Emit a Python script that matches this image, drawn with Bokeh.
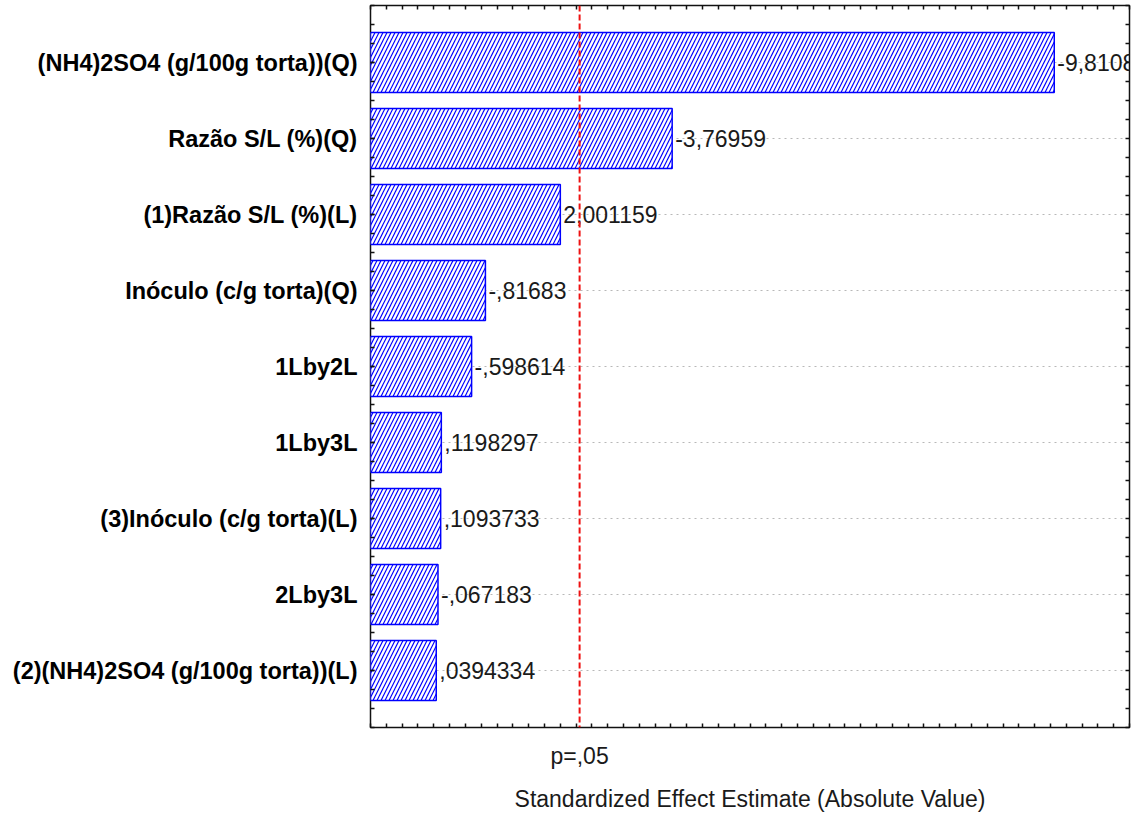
from bokeh.plotting import figure
from bokeh.models import (ColumnDataSource, LinearAxis, FixedTicker, Range1d, Span, Grid)
from bokeh.core.properties import value
from bokeh.embed import file_html
from bokeh.resources import INLINE

# Pareto chart of standardized effects
factors = [
    "(NH4)2SO4 (g/100g torta))(Q)",
    "Razão S/L (%)(Q)",
    "(1)Razão S/L (%)(L)",
    "Inóculo (c/g torta)(Q)",
    "1Lby2L",
    "1Lby3L",
    "(3)Inóculo (c/g torta)(L)",
    "2Lby3L",
    "(2)(NH4)2SO4 (g/100g torta))(L)",
]
effects = [-9.8108, -3.76959, 2.001159, -0.81683, -0.598614,
           0.1198297, 0.1093733, -0.067183, 0.0394334]
t_critical = 2.306          # p = .05 threshold
x_min, x_max = -1, 11


def fmt(v):
    s = repr(v)
    sign = "-" if s.startswith("-") else ""
    s = s.lstrip("-")
    if s.startswith("0."):
        s = s[1:]
    return sign + s.replace(".", ",")


ypos = list(range(1, len(factors) + 1))
src = ColumnDataSource(dict(
    y=ypos,
    mag=[abs(v) for v in effects],
    label=[fmt(v) for v in effects],
))

FONT = "Liberation Sans"

p = figure(width=1132, height=818, output_backend="svg", toolbar_location=None,
           x_range=Range1d(x_min, x_max), y_range=Range1d(len(factors) + 0.75, 0.25),
           x_axis_location=None, y_axis_location=None,
           min_border_left=370, min_border_right=3, min_border_top=5, min_border_bottom=91,
           background_fill_color="white", border_fill_color="white")
p.outline_line_color = "#111111"
p.outline_line_width = 1.5
p.grid.visible = False

# dotted guide lines at each effect
p.add_layout(Grid(dimension=1, ticker=FixedTicker(ticks=ypos),
                  grid_line_color="#b8b8b8", grid_line_dash="dotted", grid_line_width=1))

p.hbar(y="y", left=x_min, right="mag", height=0.79, source=src,
       fill_color="white", line_color="#0000ff", line_width=1.5,
       hatch_pattern="/", hatch_color="#0000ff", hatch_scale=8, hatch_weight=1.2)

p.text(x="mag", y="y", text="label", source=src, x_offset=3,
       text_baseline="middle", text_align="left",
       text_font=value(FONT), text_font_size="23px", text_color="#1a1a1a")

p.add_layout(Span(location=t_critical, dimension="height", line_color="#ee1111",
                  line_dash="6 3", line_width=2))

y_minor = [0.25 + 0.25 * k for k in range(4 * len(factors) + 3)]
x_minor = [x_min + 0.25 * k for k in range(4 * (x_max - x_min) + 1)]


def tick_style(ax, minor_in):
    ax.axis_line_color = None
    ax.major_tick_in = 4
    ax.major_tick_out = 0
    ax.minor_tick_in = minor_in
    ax.minor_tick_out = 0
    ax.major_tick_line_color = "#111111"
    ax.minor_tick_line_color = "#111111"
    ax.major_tick_line_width = 1.5
    ax.minor_tick_line_width = 1.5


# category axis on the left
left = LinearAxis(ticker=FixedTicker(ticks=ypos, minor_ticks=y_minor),
                  major_label_overrides={i: f for i, f in zip(ypos, factors)},
                  major_label_text_font=FONT, major_label_text_font_style="bold",
                  major_label_text_font_size="23.5px", major_label_text_color="#000000",
                  major_label_standoff=13)
tick_style(left, 4)
p.add_layout(left, "left")

# tick-only frame sides
right = LinearAxis(ticker=FixedTicker(ticks=[], minor_ticks=y_minor))
tick_style(right, 4)
p.add_layout(right, "right")

top = LinearAxis(ticker=FixedTicker(ticks=[], minor_ticks=x_minor))
tick_style(top, 4)
p.add_layout(top, "above")

# bottom axis: quarter ticks plus the p = .05 marker and title
crit = LinearAxis(ticker=FixedTicker(ticks=[t_critical], minor_ticks=x_minor),
                  major_label_overrides={t_critical: "p=,05"},
                  axis_label="Standardized Effect Estimate (Absolute Value)",
                  major_label_text_font=FONT, major_label_text_font_size="23px",
                  major_label_text_color="#1a1a1a", major_label_standoff=15,
                  axis_label_text_font=FONT, axis_label_text_font_size="23px",
                  axis_label_text_font_style="normal", axis_label_text_color="#1a1a1a",
                  axis_label_standoff=14)
tick_style(crit, 4)
crit.major_tick_line_color = None
p.add_layout(crit, "below")

open("out.html", "w").write(file_html(p, INLINE))
